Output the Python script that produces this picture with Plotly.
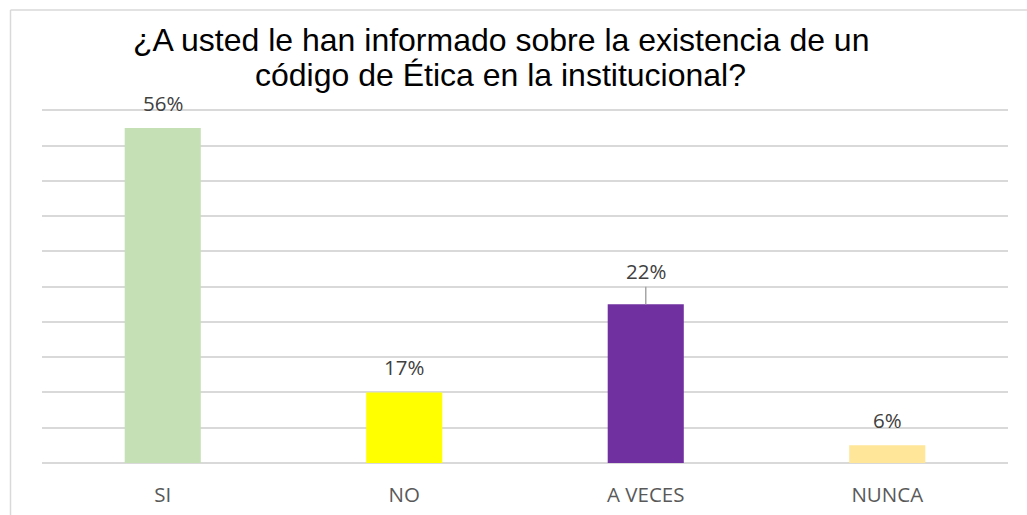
import plotly.graph_objects as go

categories = ["SI", "NO", "A VECES", "NUNCA"]
counts = [19, 4, 9, 1]
pct_labels = ["56%", "17%", "22%", "6%"]
colors = ["#C5E0B4", "#FFFF00", "#7030A0", "#FFE699"]
title_lines = ["¿A usted le han informado sobre la existencia de un",
               "código de Ética en la institucional?"]

W, H = 1027, 515
ymax = 20.08
ml, mr, mb = 42, 19, 52
plot_bottom = 463
px_per_unit = (plot_bottom - 110) / 20
mt = int(round(plot_bottom - ymax * px_per_unit))

fig = go.Figure()
fig.add_trace(go.Bar(
    x=categories, y=counts, marker=dict(color=colors, line=dict(width=0)),
    width=0.315, hoverinfo="skip"
))

lab_font = dict(family="Open Sans", size=20.5, color="#404040")
for cat, val, lab in zip(categories, counts, pct_labels):
    if cat == "A VECES":
        fig.add_annotation(x=cat, y=val, text=lab, showarrow=True, arrowhead=0,
                           arrowwidth=1.5, arrowcolor="#A6A6A6", ax=0, ay=-33,
                           standoff=0, font=lab_font)
    else:
        fig.add_annotation(x=cat, y=val, text=lab, showarrow=False, yanchor="middle",
                           yshift=25, font=lab_font)

# title as two centred lines
for line, yc in zip(title_lines, [40, 75]):
    fig.add_annotation(text=line, xref="paper", yref="paper", showarrow=False,
                       x=(500.5 - ml) / (W - ml - mr), xanchor="center",
                       y=(H - mb - yc) / (H - mt - mb), yanchor="middle",
                       font=dict(family="Liberation Sans", size=32, color="#000000"))

ph = H - mt - mb
pw = W - ml - mr
fig.add_shape(type="line", xref="paper", yref="paper",
              x0=(10.5 - ml) / pw, x1=(W + 5 - ml) / pw,
              y0=(H - mb - 10) / ph, y1=(H - mb - 10) / ph,
              line=dict(color="#D9D9D9", width=1.5))
fig.add_shape(type="line", xref="paper", yref="paper",
              x0=(10.5 - ml) / pw, x1=(10.5 - ml) / pw,
              y0=(H - mb - 10) / ph, y1=(-mb - 5) / ph,
              line=dict(color="#D9D9D9", width=1.5))

fig.update_layout(
    width=W, height=H,
    margin=dict(l=ml, r=mr, t=mt, b=mb, autoexpand=False),
    paper_bgcolor="white", plot_bgcolor="white",
    showlegend=False,
    xaxis=dict(showgrid=False, showline=False, zeroline=False, ticks="",
               tickfont=dict(family="Open Sans", size=20.5, color="#595959"),
               ticklabelstandoff=17, automargin=False),
    yaxis=dict(range=[0, ymax], dtick=2, showgrid=True, gridcolor="#D9D9D9", gridwidth=1.5,
               showticklabels=False, zeroline=True, zerolinecolor="#D9D9D9", zerolinewidth=1.5,
               showline=False, automargin=False),
    bargap=0.685,
)

fig.write_html("out.html")
